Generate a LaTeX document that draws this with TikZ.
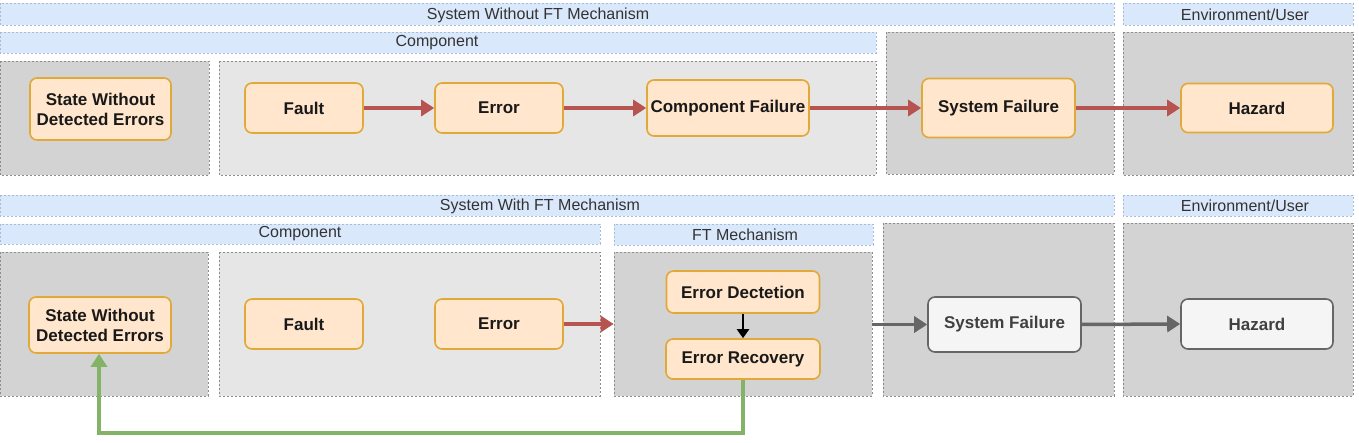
\documentclass[tikz,border=0pt]{standalone}
\usepackage{fontspec}
\setmainfont{Liberation Sans}
\usetikzlibrary{arrows.meta}
\definecolor{hdrfill}{HTML}{DAE8FC}
\definecolor{hdrdraw}{HTML}{6C8EBF}
\definecolor{darkbg}{HTML}{D3D3D3}
\definecolor{lightbg}{HTML}{E6E6E6}
\definecolor{bgdraw}{HTML}{8C8C8C}
\definecolor{orfill}{HTML}{FFE6CC}
\definecolor{ordraw}{HTML}{E0A93A}
\definecolor{redarr}{HTML}{B85450}
\definecolor{greenarr}{HTML}{82B366}
\definecolor{grayarr}{HTML}{666666}
\definecolor{whfill}{HTML}{F5F5F5}
\tikzset{
  hdr/.style={draw=hdrdraw!60, fill=hdrfill, dash pattern=on 2pt off 2pt, line width=0.7pt},
  darkzone/.style={draw=bgdraw, fill=darkbg, dash pattern=on 2pt off 2pt, line width=0.7pt},
  lightzone/.style={draw=bgdraw, fill=lightbg, dash pattern=on 2pt off 2pt, line width=0.7pt},
  hdrtext/.style={font=\fontsize{16}{18}\selectfont, text=black!80},
  blk/.style={draw=ordraw, fill=orfill, rounded corners=7pt, line width=1.6pt, font=\bfseries\fontsize{17}{20}\selectfont, align=center, text=black!90},
  wblk/.style={draw=grayarr, fill=whfill, rounded corners=7pt, line width=1.6pt, font=\bfseries\fontsize{17}{20}\selectfont, align=center, text=black!75},
  redline/.style={draw=redarr, line width=3.5pt, -{Triangle[length=13pt,width=16pt]}},
  grayline/.style={draw=grayarr, line width=3.5pt, -{Triangle[length=13pt,width=16pt]}},
  greenline/.style={draw=greenarr, line width=3.5pt, -{Triangle[length=13pt,width=16pt]}},
  blackline/.style={draw=black, line width=2.5pt, -{Triangle[length=9pt,width=12pt]}},
}
\begin{document}
\begin{tikzpicture}[x=1pt,y=-1pt]
\useasboundingbox (0,0) rectangle (1359,443);
% ---------- top row ----------
\path[hdr] (0,3) rectangle (1114,25);
\node[hdrtext] (h1) at (538,15) {System Without FT Mechanism};
\path[hdr] (1123,3) rectangle (1353,25);
\node[hdrtext] (h2) at (1245,15) {Environment/User};
\path[hdr] (0,32) rectangle (876,53);
\node[hdrtext] (h3) at (437,43) {Component};
\path[darkzone] (0,61) rectangle (209,175);
\path[lightzone] (219,61) rectangle (876,175);
\path[darkzone] (886,32) rectangle (1114,174);
\path[darkzone] (1123,32) rectangle (1353,175);

\node[blk, minimum width=141pt, minimum height=62pt] (s1) at (100.5,109) {State Without\\Detected Errors};
\node[blk, minimum width=118pt, minimum height=50pt] (f1) at (304,108) {Fault};
\node[blk, minimum width=128pt, minimum height=50pt] (e1) at (499,108) {Error};
\node[blk, minimum width=162pt, minimum height=56pt, inner xsep=2pt] (c1) at (728,108) {Component Failure};
\node[blk, minimum width=153pt, minimum height=59pt] (sf1) at (998.5,108) {System Failure};
\node[blk, minimum width=152pt, minimum height=49pt] (hz1) at (1257,108) {Hazard};

\draw[redline] (f1.east) -- (e1.west);
\draw[redline] (e1.east) -- (c1.west);
\draw[redline] (c1.east) -- (sf1.west);
\draw[redline] (sf1.east) -- (hz1.west);

% ---------- bottom row ----------
\path[hdr] (0,195) rectangle (1114,216);
\node[hdrtext] (h4) at (540,206) {System With FT Mechanism};
\path[hdr] (1123,195) rectangle (1353,216);
\node[hdrtext] (h5) at (1245,206) {Environment/User};
\path[hdr] (0,224) rectangle (600,244);
\node[hdrtext] (h6) at (300,234) {Component};
\path[hdr] (614,224) rectangle (873,245);
\node[hdrtext] (h7) at (745,235) {FT Mechanism};
\path[darkzone] (0,252) rectangle (208,396);
\path[lightzone] (219,252) rectangle (600,396);
\node[darkzone, minimum width=258pt, minimum height=144pt, inner sep=0pt] (ft) at (743,324) {};
\path[darkzone] (883,223) rectangle (1114,396);
\path[darkzone] (1123,223) rectangle (1353,396);

\node[blk, minimum width=142pt, minimum height=56pt] (s2) at (100,325) {State Without\\Detected Errors};
\node[blk, minimum width=118pt, minimum height=50pt] (f2) at (304,324) {Fault};
\node[blk, minimum width=128pt, minimum height=50pt] (e2) at (499,324) {Error};
\node[blk, minimum width=153pt, minimum height=42pt] (ed) at (743,292) {Error Dectetion};
\node[blk, minimum width=154pt, minimum height=40pt] (er) at (743,359) {Error Recovery};
\node[wblk, minimum width=153pt, minimum height=55pt] (sf2) at (1004.5,324.5) {System Failure};
\node[wblk, minimum width=152pt, minimum height=50pt] (hz2) at (1257,324) {Hazard};

\draw[redline] (e2.east) -- (e2.east -| ft.west);
\draw[blackline] (ed.south) -- (er.north);
\draw[grayline] (sf2.west -| ft.east) -- (sf2.west);
\draw[grayline] (sf2.east) -- (hz2.west);
\coordinate (g1) at (743,433);
\coordinate (g2) at (99,433);
\draw[greenline] (er.south) -- (g1) -- (g2) -- (s2.south -| g2);
\end{tikzpicture}
\end{document}
